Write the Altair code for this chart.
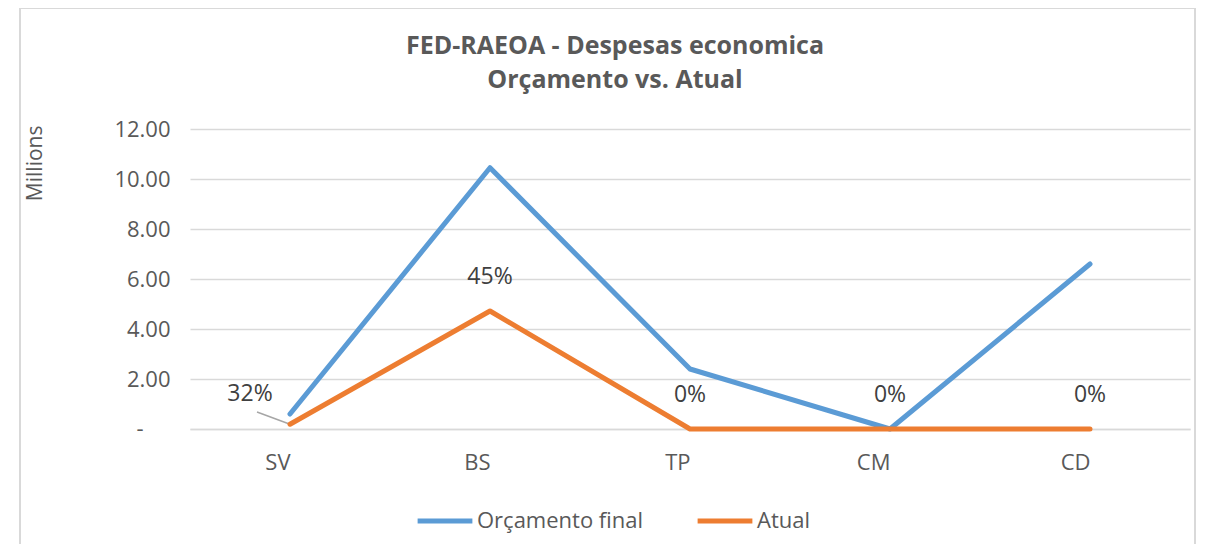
import altair as alt
import pandas as pd

categories = ["SV", "BS", "TP", "CM", "CD"]
orcamento_final = [0.60, 10.45, 2.40, 0.0, 6.60]
atual = [0.19, 4.72, 0.0, 0.0, 0.0]
pct_labels = ["32%", "45%", "0%", "0%", "0%"]
series_names = ["Orçamento final", "Atual"]
series_colors = ["#5B9BD5", "#ED7D31"]
y_ticks = [0, 2, 4, 6, 8, 10, 12]

rows = []
for c, v in zip(categories, orcamento_final):
    rows.append({"cat": c, "val": v, "serie": series_names[0]})
for c, v in zip(categories, atual):
    rows.append({"cat": c, "val": v, "serie": series_names[1]})
df = pd.DataFrame(rows)
df_lab = pd.DataFrame({"cat": categories, "val": atual, "lab": pct_labels})

FONT = "Open Sans"
GREY = "#595959"

x_enc = alt.X("cat:N", sort=categories, scale=alt.Scale(type="point", padding=0.5),
              axis=alt.Axis(title=None, labelFontSize=22, labelColor=GREY, labelFont=FONT,
                            ticks=False, labelPadding=33, domainColor="#d9d9d9",
                            domainWidth=1.5, labelAngle=0))
y_enc = alt.Y("val:Q", scale=alt.Scale(domain=[0, 12], nice=False),
              axis=alt.Axis(title="Millions", values=y_ticks, ticks=False, domain=False,
                            labelExpr="datum.value == 0 ? '' : format(datum.value, '.2f')",
                            labelFontSize=22, labelColor=GREY, labelFont=FONT, labelPadding=20,
                            gridColor="#d9d9d9", gridWidth=1.5,
                            titleFontSize=21, titleFont=FONT, titleColor=GREY,
                            titleFontWeight="normal", titleAngle=-90,
                            titleX=-155, titleY=-4, titleAlign="right", titleBaseline="middle"))

frame = alt.Chart(pd.DataFrame({"a": [0]})).mark_rect(
    fill=None, stroke="#d9d9d9", strokeWidth=2
).encode(x=alt.value(-170), x2=alt.value(1005), y=alt.value(-121), y2=alt.value(460))

# zero tick label shown as "-" (accounting style), placed in the label column
zero_lab = alt.Chart(pd.DataFrame({"v": [0], "t": ["-"]})).mark_text(
    fontSize=22, font=FONT, color=GREY, align="center", baseline="middle"
).encode(x=alt.value(-50), y=alt.Y("v:Q"), text="t:N")

lines = alt.Chart(df).mark_line(strokeWidth=5, strokeCap="round", strokeJoin="round").encode(
    x=x_enc, y=y_enc,
    color=alt.Color("serie:N", sort=series_names,
                    scale=alt.Scale(domain=series_names, range=series_colors),
                    legend=alt.Legend(title=None, orient="none", direction="horizontal",
                                      legendX=225, legendY=362,
                                      symbolType="stroke", symbolStrokeWidth=5, symbolSize=3000,
                                      labelFontSize=22, labelColor=GREY, labelFont=FONT,
                                      labelLimit=400, columnPadding=43, labelOffset=2)),
    detail="serie:N"
)

lab_main = alt.Chart(df_lab).transform_filter("datum.cat != 'SV'").mark_text(
    fontSize=23, font=FONT, color="#404040", dy=-34, baseline="middle"
).encode(x=alt.X("cat:N", sort=categories), y="val:Q", text="lab:N")

lab_sv = alt.Chart(df_lab).transform_filter("datum.cat == 'SV'").mark_text(
    fontSize=23, font=FONT, color="#404040", dx=-40, dy=-30, baseline="middle"
).encode(x=alt.X("cat:N", sort=categories), y="val:Q", text="lab:N")

leader = alt.Chart(df_lab).transform_filter("datum.cat == 'SV'").mark_rule(
    color="#a6a6a6", strokeWidth=1.5
).encode(x=alt.X("cat:N", sort=categories), y="val:Q", x2=alt.value(67), y2=alt.value(283))

chart = alt.layer(frame, leader, lines, zero_lab, lab_main, lab_sv).properties(
    width=1000, height=300,
    title=alt.TitleParams(text=["FED-RAEOA - Despesas economica", "Orçamento vs. Atual"],
                          fontSize=25, font=FONT, fontWeight="bold", color=GREY,
                          anchor="middle", frame="group", dx=-75, offset=-86, lineHeight=34),
    autosize=alt.AutoSizeParams(type="none"),
    padding={"left": 182, "top": 121, "right": 14, "bottom": 115},
).configure_view(stroke=None)

chart.save("out.html", embed_options={"renderer": "svg", "actions": False})
